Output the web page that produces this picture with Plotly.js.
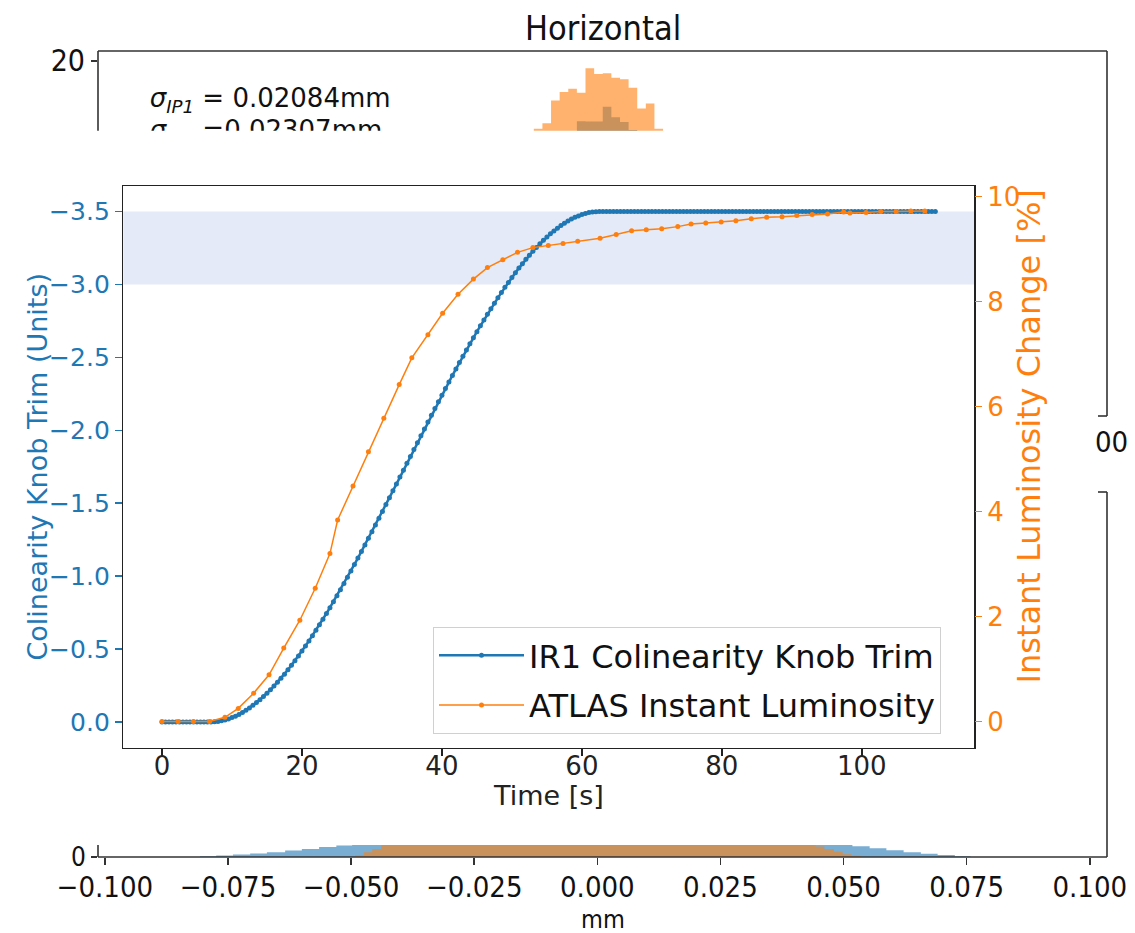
<!DOCTYPE html>
<html><head><meta charset="utf-8">
<script src="https://cdn.plot.ly/plotly-3.0.1.min.js"></script>
<style>html,body{margin:0;padding:0;background:#fff;overflow:hidden}</style>
</head><body><div id="chart" style="width:1135px;height:933px"></div>
<script>
// ---------------- data ----------------
// knob trim (blue), sampled every 0.5 s
const knobTime = [
0,0.5,1,1.5,2,2.5,3,3.5,4,4.5,5,5.5,6,6.5,7,7.5,8,8.5,9,9.5,
10,10.5,11,11.5,12,12.5,13,13.5,14,14.5,15,15.5,16,16.5,17,17.5,18,18.5,19,19.5,
20,20.5,21,21.5,22,22.5,23,23.5,24,24.5,25,25.5,26,26.5,27,27.5,28,28.5,29,29.5,
30,30.5,31,31.5,32,32.5,33,33.5,34,34.5,35,35.5,36,36.5,37,37.5,38,38.5,39,39.5,
40,40.5,41,41.5,42,42.5,43,43.5,44,44.5,45,45.5,46,46.5,47,47.5,48,48.5,49,49.5,
50,50.5,51,51.5,52,52.5,53,53.5,54,54.5,55,55.5,56,56.5,57,57.5,58,58.5,59,59.5,
60,60.5,61,61.5,62,62.5,63,63.5,64,64.5,65,65.5,66,66.5,67,67.5,68,68.5,69,69.5,
70,70.5,71,71.5,72,72.5,73,73.5,74,74.5,75,75.5,76,76.5,77,77.5,78,78.5,79,79.5,
80,80.5,81,81.5,82,82.5,83,83.5,84,84.5,85,85.5,86,86.5,87,87.5,88,88.5,89,89.5,
90,90.5,91,91.5,92,92.5,93,93.5,94,94.5,95,95.5,96,96.5,97,97.5,98,98.5,99,99.5,
100,100.5,101,101.5,102,102.5,103,103.5,104,104.5,105,105.5,106,106.5,107,107.5,108,108.5,109,109.5,
110,110.5];
const knobTrim = [
0,0,0,0,0,0,0,0,0,0,0,0,0,0,0,-0.001,-0.003,-0.008,-0.013,-0.021,
-0.030,-0.040,-0.052,-0.065,-0.080,-0.096,-0.114,-0.133,-0.153,-0.174,-0.197,-0.221,-0.246,-0.273,-0.300,-0.328,-0.358,-0.389,-0.420,-0.453,
-0.486,-0.521,-0.556,-0.592,-0.629,-0.667,-0.705,-0.744,-0.784,-0.825,-0.866,-0.907,-0.950,-0.993,-1.036,-1.080,-1.124,-1.169,-1.214,-1.259,
-1.305,-1.351,-1.397,-1.444,-1.491,-1.538,-1.585,-1.632,-1.679,-1.726,-1.774,-1.821,-1.868,-1.915,-1.962,-2.009,-2.056,-2.103,-2.149,-2.195,
-2.241,-2.286,-2.331,-2.376,-2.420,-2.464,-2.507,-2.550,-2.593,-2.634,-2.676,-2.716,-2.756,-2.795,-2.834,-2.871,-2.908,-2.944,-2.980,-3.014,
-3.047,-3.080,-3.112,-3.142,-3.172,-3.200,-3.228,-3.254,-3.279,-3.303,-3.326,-3.347,-3.367,-3.386,-3.404,-3.420,-3.435,-3.448,-3.460,-3.470,
-3.479,-3.487,-3.493,-3.497,-3.499,-3.5,-3.5,-3.5,-3.5,-3.5,-3.5,-3.5,-3.5,-3.5,-3.5,-3.5,-3.5,-3.5,-3.5,-3.5,
-3.5,-3.5,-3.5,-3.5,-3.5,-3.5,-3.5,-3.5,-3.5,-3.5,-3.5,-3.5,-3.5,-3.5,-3.5,-3.5,-3.5,-3.5,-3.5,-3.5,
-3.5,-3.5,-3.5,-3.5,-3.5,-3.5,-3.5,-3.5,-3.5,-3.5,-3.5,-3.5,-3.5,-3.5,-3.5,-3.5,-3.5,-3.5,-3.5,-3.5,
-3.5,-3.5,-3.5,-3.5,-3.5,-3.5,-3.5,-3.5,-3.5,-3.5,-3.5,-3.5,-3.5,-3.5,-3.5,-3.5,-3.5,-3.5,-3.5,-3.5,
-3.5,-3.5,-3.5,-3.5,-3.5,-3.5,-3.5,-3.5,-3.5,-3.5,-3.5,-3.5,-3.5,-3.5,-3.5,-3.5,-3.5,-3.5,-3.5,-3.5,
-3.5,-3.5];
// ATLAS instant luminosity change [%] (orange)
const lumiTime = [0,2.3,4.5,6.8,9.0,10.9,13.1,15.3,17.4,19.7,21.9,24.0,25.1,27.3,29.5,31.7,33.9,35.7,38.0,40.1,42.3,44.5,46.5,48.7,50.8,53.0,55.2,57.3,59.4,62.6,64.9,67.1,69.2,71.4,73.7,75.6,77.7,79.9,82.0,84.2,86.4,88.6,90.7,92.9,95.1,97.4,98.3,100.6,102.7,104.9,107.0,109.0];
const lumiChange = [0,0,0,0,0.08,0.25,0.54,0.89,1.40,1.93,2.54,3.20,3.84,4.49,5.14,5.78,6.42,6.93,7.37,7.78,8.14,8.43,8.65,8.80,8.94,9.03,9.07,9.11,9.15,9.21,9.28,9.35,9.37,9.39,9.43,9.48,9.50,9.52,9.54,9.58,9.61,9.62,9.64,9.66,9.67,9.71,9.69,9.70,9.72,9.72,9.73,9.73];
const seriesNames = ['IR1 Colinearity Knob Trim', 'ATLAS Instant Luminosity'];
const knobTicks = [0,-0.5,-1,-1.5,-2,-2.5,-3,-3.5];
const knobTickText = ['0.0','\u22120.5','\u22121.0','\u22121.5','\u22122.0','\u22122.5','\u22123.0','\u22123.5'];
const lumiTicks = [0,2,4,6,8,10];
const timeTicks = [0,20,40,60,80,100];
const targetBand = [-3.5, -3.0];

// background "Horizontal" histogram (density), visible parts only
const histTopEdges = [-0.0129,-0.01115,-0.0094,-0.00765,-0.0059,-0.00415,-0.0024,-0.00065,0.0011,0.00285,0.0046,0.00635,0.0081,0.00985,0.0116,0.01335];
const histTopOrange = [18.30,18.44,19.01,19.22,19.30,19.20,19.82,19.67,19.69,19.58,19.54,19.33,18.81,18.93,18.30,0];
const histTopBlueEdges = [-0.00415,-0.0024,-0.00065,0.0011,0.00285,0.0046,0.00635,0.0081];
const histTopBlue = [18.49,18.48,18.48,18.85,18.59,18.47,18.27,0];
const histTailBlueEdges = [-0.0807,-0.0774,-0.0740,-0.0705,-0.0671,-0.0634,-0.0600,-0.0565,-0.0530,-0.0498,0.0518,0.0553,0.0587,0.0622,0.0657,0.0691,0.0726,0.0758];
const histTailBlue = [0.02,0.04,0.06,0.09,0.12,0.16,0.20,0.25,0.29,5,0.27,0.22,0.17,0.12,0.08,0.05,0.02,0];
const histTailOrangeEdges = [-0.0492,-0.0474,-0.0457,-0.0439,0.0443,0.0461,0.0480,0.0498,0.0516,0.0535];
const histTailOrange = [0.05,0.12,0.2,5,0.26,0.2,0.13,0.07,0.03,0];
const mmTicks = [-0.1,-0.075,-0.05,-0.025,0,0.025,0.05,0.075,0.1];
const mmTickText = ['\u22120.100','\u22120.075','\u22120.050','\u22120.025','0.000','0.025','0.050','0.075','0.100'];
const sigmaLabels = ['<i>\u03c3</i><sub><i>IP1</i></sub> = 0.02084mm', '<i>\u03c3</i><sub><i>IP5</i></sub> =0.02307mm'];

// ---------------- layout helpers (pixel -> paper) ----------------
const W = 1135, H = 933;
const px = v => v / W, py = v => 1 - v / H;
const BLUE = '#1f77b4', ORANGE = '#ff7f0e';
const FONT = 'DejaVu Sans, sans-serif';
const CFONT = 'DejaVu Sans Condensed, DejaVu Sans, sans-serif';

const outerX = [px(98), px(1107)];
const mmRange = [-0.1014, 0.1035];

const traces = [
  // background histogram: top strip
  {x: histTopBlueEdges, y: histTopBlue, xaxis: 'x', yaxis: 'y', type: 'scatter', mode: 'lines',
   line: {shape: 'hv', width: 0}, fill: 'tozeroy', fillcolor: 'rgba(31,119,180,0.6)', showlegend: false, hoverinfo: 'skip'},
  {x: histTopEdges, y: histTopOrange, xaxis: 'x', yaxis: 'y', type: 'scatter', mode: 'lines',
   line: {shape: 'hv', width: 0}, fill: 'tozeroy', fillcolor: 'rgba(255,127,14,0.6)', showlegend: false, hoverinfo: 'skip'},
  {x: [-0.0909, -0.0909], y: [19.0, 18.2], xaxis: 'x', yaxis: 'y', type: 'scatter', mode: 'text',
   text: sigmaLabels, textposition: 'middle right', textfont: {family: FONT, size: 26, color: '#111'},
   showlegend: false, hoverinfo: 'skip', cliponaxis: true},
  // background histogram: bottom strip
  {x: histTailBlueEdges, y: histTailBlue, xaxis: 'x2', yaxis: 'y2', type: 'scatter', mode: 'lines',
   line: {shape: 'hv', width: 0}, fill: 'tozeroy', fillcolor: 'rgba(31,119,180,0.6)', showlegend: false, hoverinfo: 'skip'},
  {x: histTailOrangeEdges, y: histTailOrange, xaxis: 'x2', yaxis: 'y2', type: 'scatter', mode: 'lines',
   line: {shape: 'hv', width: 0}, fill: 'tozeroy', fillcolor: 'rgba(255,127,14,0.6)', showlegend: false, hoverinfo: 'skip'},
  // main chart
  {x: knobTime, y: knobTrim, xaxis: 'x3', yaxis: 'y3', type: 'scatter', mode: 'lines+markers',
   name: seriesNames[0], legendgroup: 'knob', line: {color: BLUE, width: 2.5}, marker: {color: BLUE, size: 5}},
  {x: lumiTime, y: lumiChange, xaxis: 'x3', yaxis: 'y4', type: 'scatter', mode: 'lines+markers',
   name: seriesNames[1], legendgroup: 'lumi', line: {color: ORANGE, width: 1.5}, marker: {color: ORANGE, size: 5}}
];

const noGrid = {showgrid: false, zeroline: false, fixedrange: true};
const layout = {
  width: W, height: H, margin: {l: 0, r: 0, t: 0, b: 0}, autosize: false,
  paper_bgcolor: '#fff', plot_bgcolor: 'rgba(0,0,0,0)',
  font: {family: FONT, color: '#111'},
  showlegend: true,
  xaxis: Object.assign({domain: outerX, range: mmRange, anchor: 'y', showticklabels: false, ticks: '', showline: false}, noGrid),
  yaxis: Object.assign({domain: [py(130.7), py(51)], range: [18.25, 20.25], anchor: 'x', tickvals: [20], ticktext: ['20'],
    ticks: 'outside', ticklen: 6, tickwidth: 1.5, tickcolor: '#333', showline: false,
    tickfont: {family: CFONT, size: 30, color: '#111'}}, noGrid),
  xaxis2: Object.assign({domain: outerX, range: mmRange, anchor: 'y2', tickvals: mmTicks, ticktext: mmTickText,
    ticks: 'outside', ticklen: 7, tickwidth: 1.5, tickcolor: '#333', showline: false, ticklabelstandoff: -3,
    tickfont: {family: CFONT, size: 29, color: '#111'}}, noGrid),
  yaxis2: Object.assign({domain: [py(857), py(845)], range: [0, 0.30], anchor: 'x2', tickvals: [0], ticktext: ['0'],
    ticks: 'outside', ticklen: 6, tickwidth: 1.5, tickcolor: '#333', showline: false,
    tickfont: {family: CFONT, size: 26, color: '#111'}}, noGrid),
  xaxis3: Object.assign({domain: [px(123.3), px(974)], range: [-5.525, 116.025], anchor: 'y3', tickvals: timeTicks,
    ticks: 'outside', ticklen: 7, tickwidth: 1.5, tickcolor: '#222', showline: true, linecolor: '#222', linewidth: 1.5, mirror: true,
    ticklabelstandoff: -12, tickfont: {family: FONT, size: 26, color: '#222'}}, noGrid),
  yaxis3: Object.assign({domain: [py(747.5), py(186)], range: [0.175, -3.675], anchor: 'x3', tickvals: knobTicks, ticktext: knobTickText,
    ticks: 'outside', ticklen: 7, tickwidth: 1.5, tickcolor: BLUE, showline: true, linecolor: '#222', linewidth: 1.5, mirror: true,
    tickfont: {family: FONT, size: 25, color: BLUE}}, noGrid),
  yaxis4: Object.assign({overlaying: 'y3', side: 'right', anchor: 'x3', range: [-0.495, 10.204], tickvals: lumiTicks,
    ticks: 'outside', ticklen: 7, tickwidth: 1.5, tickcolor: ORANGE, showline: false,
    tickfont: {family: FONT, size: 26, color: ORANGE}}, noGrid),
  legend: {x: px(433), y: py(627), xanchor: 'left', yanchor: 'top', bgcolor: 'rgba(255,255,255,0.85)',
    bordercolor: '#d0d0d0', borderwidth: 1, font: {family: FONT, size: 32, color: '#111'}, itemwidth: 85, tracegroupgap: 5},
  shapes: [
    {type: 'rect', xref: 'x3 domain', x0: 0, x1: 1, yref: 'y3', y0: targetBand[0], y1: targetBand[1],
     fillcolor: '#e4eaf7', line: {width: 0}, layer: 'below'},
    // outer (background) axes frame pieces that remain visible
    {type: 'line', xref: 'paper', yref: 'paper', x0: px(98), x1: px(1107), y0: py(51), y1: py(51), line: {color: '#333', width: 1.6}},
    {type: 'line', xref: 'paper', yref: 'paper', x0: px(98), x1: px(98), y0: py(51), y1: py(130.7), line: {color: '#333', width: 1.6}},
    {type: 'line', xref: 'paper', yref: 'paper', x0: px(1107), x1: px(1107), y0: py(51), y1: py(416), line: {color: '#333', width: 1.6}},
    {type: 'line', xref: 'paper', yref: 'paper', x0: px(1098), x1: px(1107), y0: py(416), y1: py(416), line: {color: '#333', width: 1.6}},
    {type: 'line', xref: 'paper', yref: 'paper', x0: px(1098), x1: px(1107), y0: py(492), y1: py(492), line: {color: '#333', width: 1.6}},
    {type: 'line', xref: 'paper', yref: 'paper', x0: px(1107), x1: px(1107), y0: py(492), y1: py(857), line: {color: '#333', width: 1.6}},
    {type: 'line', xref: 'paper', yref: 'paper', x0: px(98), x1: px(1107), y0: py(857), y1: py(857), line: {color: '#333', width: 1.6}},
    {type: 'line', xref: 'paper', yref: 'paper', x0: px(98), x1: px(98), y0: py(845), y1: py(857), line: {color: '#333', width: 1.6}}
  ],
  annotations: [
    {text: 'Horizontal', xref: 'paper', yref: 'paper', x: px(602.5), y: py(28), xanchor: 'center', yanchor: 'middle',
     showarrow: false, font: {family: CFONT, size: 34, color: '#111'}},
    {text: 'mm', xref: 'paper', yref: 'paper', x: px(602.5), y: py(919), xanchor: 'center', yanchor: 'middle',
     showarrow: false, font: {family: CFONT, size: 25, color: '#111'}},
    {text: '00', xref: 'paper', yref: 'paper', x: px(1093), y: py(442), xanchor: 'left', yanchor: 'middle',
     showarrow: false, font: {family: CFONT, size: 29, color: '#111'}},
    {text: 'Time [s]', xref: 'paper', yref: 'paper', x: px(548.5), y: py(795), xanchor: 'center', yanchor: 'middle',
     showarrow: false, font: {family: FONT, size: 27, color: '#222'}},
    {text: 'Colinearity Knob Trim (Units)', xref: 'paper', yref: 'paper', x: px(37), y: py(466.5), xanchor: 'center', yanchor: 'middle',
     textangle: -90, showarrow: false, font: {family: FONT, size: 27, color: BLUE}},
    {text: 'Instant Luminosity Change [%]', xref: 'paper', yref: 'paper', x: px(1028), y: py(436.5), xanchor: 'center', yanchor: 'middle',
     textangle: -90, showarrow: false, font: {family: FONT, size: 32, color: ORANGE}}
  ]
};

Plotly.newPlot('chart', traces, layout, {staticPlot: true, displayModeBar: false});
</script></body></html>
